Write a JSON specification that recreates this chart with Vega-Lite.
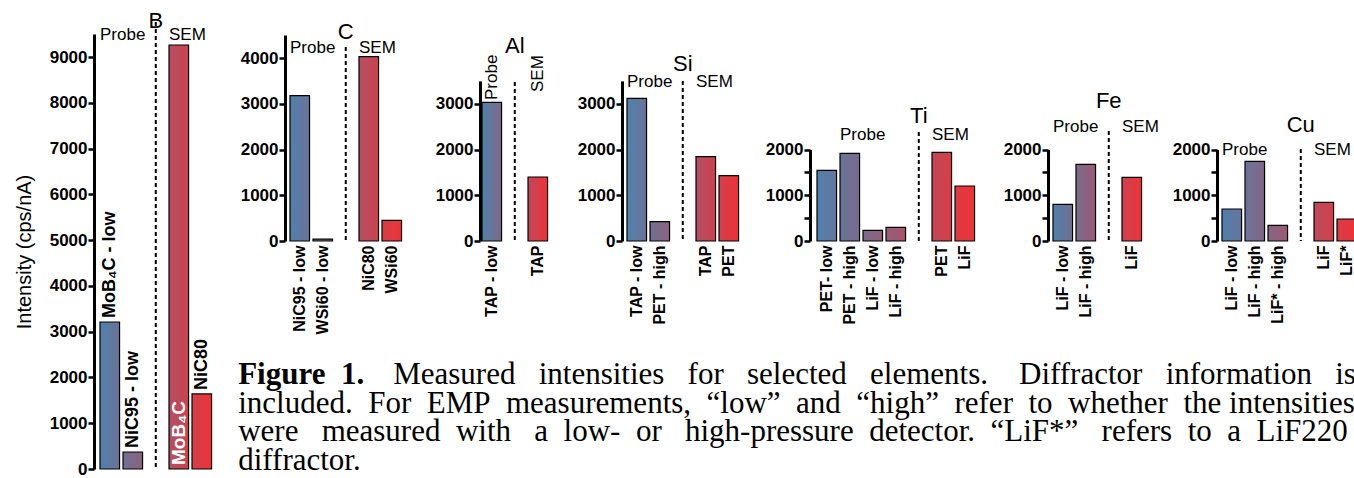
{
  "$schema": "https://vega.github.io/schema/vega-lite/v6.json",
  "background": "white",
  "padding": {"left": 14, "top": 10, "right": 0, "bottom": 0},
  "title": {
    "text": "Figure\u00a0\u00a01.",
    "subtitle": [
      "\u200b\u00a0\u00a0\u00a0\u00a0\u00a0\u00a0\u00a0\u00a0\u00a0\u00a0\u00a0\u00a0\u00a0\u00a0\u00a0\u00a0\u00a0\u00a0\u00a0\u00a0Measured\u00a0\u00a0\u00a0intensities\u00a0\u00a0\u00a0for\u00a0\u00a0\u00a0selected\u00a0\u00a0\u00a0elements.\u00a0\u00a0\u00a0\u00a0Diffractor\u00a0\u00a0\u00a0information\u00a0\u00a0\u00a0is",
      "included.\u00a0\u00a0For\u00a0\u00a0EMP\u00a0\u00a0measurements,\u00a0\u00a0\u201clow\u201d\u00a0\u00a0and\u00a0\u00a0\u201chigh\u201d\u00a0\u00a0refer\u00a0\u00a0to\u00a0\u00a0whether\u00a0\u00a0the intensities",
      "were\u00a0\u00a0\u00a0measured\u00a0\u00a0with\u00a0\u00a0\u00a0a\u00a0\u00a0low-\u00a0\u00a0or\u00a0\u00a0\u00a0high-pressure\u00a0\u00a0detector.\u00a0\u00a0\u201cLiF*\u201d\u00a0\u00a0\u00a0refers\u00a0\u00a0to\u00a0\u00a0a\u00a0\u00a0LiF220",
      "diffractor."
    ],
    "orient": "bottom",
    "anchor": "start",
    "offset": -117,
    "dx": 224,
    "baseline": "top",
    "font": "Liberation Serif",
    "fontSize": 31,
    "fontWeight": "bold",
    "color": "black",
    "subtitleFont": "Liberation Serif",
    "subtitleFontSize": 31,
    "subtitleFontWeight": "normal",
    "subtitleColor": "black",
    "subtitleLineHeight": 28.5,
    "subtitlePadding": -31
  },
  "datasets": {
    "bars": [
      {"el": "B", "label": "MoB\u2084C - low", "v": 3213},
      {"el": "B", "label": "NiC95 - low", "v": 372},
      {"el": "B", "label": "MoB\u2084C", "v": 9268},
      {"el": "B", "label": "NiC80", "v": 1640},
      {"el": "C", "label": "NiC95 - low", "v": 3176},
      {"el": "C", "label": "WSi60 - low", "v": 40},
      {"el": "C", "label": "NiC80", "v": 4029},
      {"el": "C", "label": "WSi60", "v": 452},
      {"el": "Al", "label": "TAP - low", "v": 3031},
      {"el": "Al", "label": "TAP", "v": 1399},
      {"el": "Si", "label": "TAP - low", "v": 3119},
      {"el": "Si", "label": "PET - high", "v": 422},
      {"el": "Si", "label": "TAP", "v": 1843},
      {"el": "Si", "label": "PET", "v": 1428},
      {"el": "Ti", "label": "PET- low", "v": 1545},
      {"el": "Ti", "label": "PET - high", "v": 1916},
      {"el": "Ti", "label": "LiF - low", "v": 233},
      {"el": "Ti", "label": "LiF - high", "v": 299},
      {"el": "Ti", "label": "PET", "v": 1938},
      {"el": "Ti", "label": "LiF", "v": 1202},
      {"el": "Fe", "label": "LiF - low", "v": 802},
      {"el": "Fe", "label": "LiF - high", "v": 1676},
      {"el": "Fe", "label": "LiF", "v": 1392},
      {"el": "Cu", "label": "LiF - low", "v": 699},
      {"el": "Cu", "label": "LiF - high", "v": 1741},
      {"el": "Cu", "label": "LiF* - high", "v": 342},
      {"el": "Cu", "label": "LiF", "v": 845},
      {"el": "Cu", "label": "LiF*", "v": 481}
    ],
    "dividers": [
      {"el": "B", "label": "sep", "v": 9770},
      {"el": "C", "label": "sep", "v": 4241},
      {"el": "Al", "label": "sep", "v": 3476},
      {"el": "Si", "label": "sep", "v": 3498},
      {"el": "Ti", "label": "sep", "v": 2383},
      {"el": "Fe", "label": "sep", "v": 2405},
      {"el": "Cu", "label": "sep", "v": 2011}
    ],
    "elements": [
      {"el": "B", "label": "sep", "v": 9639, "text": "B"},
      {"el": "C", "label": "sep", "v": 4416, "text": "C"},
      {"el": "Al", "label": "sep", "v": 4110, "text": "Al"},
      {"el": "Si", "label": "sep", "v": 3716, "text": "Si"},
      {"el": "Ti", "label": "sep", "v": 2579, "text": "Ti"},
      {"el": "Fe", "label": "sep", "v": 2907, "text": "Fe"},
      {"el": "Cu", "label": "sep", "v": 2383, "text": "Cu"}
    ],
    "groups": [
      {"el": "B", "label": "MoB\u2084C - low", "v": 9377, "text": "Probe"},
      {"el": "B", "label": "MoB\u2084C", "v": 9377, "text": "SEM"},
      {"el": "C", "label": "NiC95 - low", "v": 4110, "text": "Probe"},
      {"el": "C", "label": "NiC80", "v": 4110, "text": "SEM"},
      {"el": "Si", "label": "TAP - low", "v": 3366, "text": "Probe"},
      {"el": "Si", "label": "TAP", "v": 3366, "text": "SEM"},
      {"el": "Ti", "label": "PET - high", "v": 2208, "text": "Probe"},
      {"el": "Ti", "label": "PET", "v": 2208, "text": "SEM"},
      {"el": "Fe", "label": "LiF - low", "v": 2383, "text": "Probe"},
      {"el": "Fe", "label": "LiF", "v": 2383, "text": "SEM"},
      {"el": "Cu", "label": "LiF - low", "v": 1880, "text": "Probe"},
      {"el": "Cu", "label": "LiF", "v": 1880, "text": "SEM"}
    ],
    "groupsAl": [
      {"el": "Al", "label": "TAP - low", "v": 3082, "text": "Probe"},
      {"el": "Al", "label": "TAP", "v": 3257, "text": "SEM"}
    ],
    "barnotes": [
      {"el": "B", "label": "MoB\u2084C - low", "v": 3213, "text": "MoB\u2084C - low"},
      {"el": "B", "label": "NiC95 - low", "v": 372, "text": "NiC95 - low"},
      {"el": "B", "label": "NiC80", "v": 1640, "text": "NiC80"}
    ],
    "innernotes": [
      {"el": "B", "label": "MoB\u2084C", "v": 0, "text": "MoB\u2084C"}
    ]
  },
  "spacing": 50,
  "bounds": "flush",
  "resolve": {"scale": {"x": "independent", "y": "independent"}},
  "hconcat": [
    {
      "width": 141, "height": 435,
      "layer": [
        {
          "data": {"name": "bars"},
          "transform": [{"filter": "datum.el == 'B'"}],
          "mark": {"type": "bar", "stroke": "black", "strokeWidth": 1.2},
          "encoding": {
            "x": {"field": "label", "type": "nominal", "sort": null,
                  "scale": {"domain": ["MoB\u2084C - low", "NiC95 - low", "sep", "MoB\u2084C", "NiC80"], "paddingInner": 0.15, "paddingOuter": 0.64, "align": 0.204},
                  "axis": null},
            "y": {"field": "v", "type": "quantitative", "scale": {"domain": [0, 9508], "nice": false},
                  "axis": {"values": [0,500,1000,1500,2000,2500,3000,3500,4000,4500,5000,5500,6000,6500,7000,7500,8000,8500,9000,9500],
                           "format": "d", "labelExpr": "datum.value % 1000 === 0 ? datum.label : ''",
                           "title": "Intensity (cps/nA)", "titleFontSize": 20, "titleFontWeight": "normal", "titlePadding": 15, "titleFont": "Liberation Sans"}},
            "color": {
              "condition": [
                {"test": "datum.label === 'MoB\u2084C - low'", "value": {"gradient": "linear", "x1": 0, "y1": 0, "x2": 1, "y2": 0, "stops": [{"offset": 0, "color": "#5080ac"}, {"offset": 1, "color": "#6c7298"}]}},
                {"test": "datum.label === 'NiC95 - low'", "value": {"gradient": "linear", "x1": 0, "y1": 0, "x2": 1, "y2": 0, "stops": [{"offset": 0, "color": "#717094"}, {"offset": 1, "color": "#8c627f"}]}},
                {"test": "datum.label === 'MoB\u2084C'", "value": {"gradient": "linear", "x1": 0, "y1": 0, "x2": 1, "y2": 0, "stops": [{"offset": 0, "color": "#b25064"}, {"offset": 1, "color": "#cd424f"}]}}
              ],
              "value": {"gradient": "linear", "x1": 0, "y1": 0, "x2": 1, "y2": 0, "stops": [{"offset": 0, "color": "#d2404b"}, {"offset": 1, "color": "#ee3237"}]}
            }
          }
        },
        {
          "data": {"name": "dividers"},
          "transform": [{"filter": "datum.el == 'B'"}],
          "mark": {"type": "rule", "strokeDash": [4, 3], "strokeWidth": 2, "color": "black"},
          "encoding": {
            "x": {"field": "label", "type": "nominal", "sort": null},
            "y": {"field": "v", "type": "quantitative"},
            "y2": {"datum": 0}
          }
        },
        {
          "data": {"name": "elements"},
          "transform": [{"filter": "datum.el == 'B'"}],
          "mark": {"type": "text", "fontSize": 22, "align": "center", "baseline": "alphabetic", "color": "black"},
          "encoding": {
            "x": {"field": "label", "type": "nominal", "sort": null},
            "y": {"field": "v", "type": "quantitative"},
            "text": {"field": "text"}
          }
        },
        {
          "data": {"name": "groups"},
          "transform": [{"filter": "datum.el == 'B'"}],
          "mark": {"type": "text", "fontSize": 17, "align": "left", "baseline": "alphabetic", "color": "black"},
          "encoding": {
            "x": {"field": "label", "type": "nominal", "sort": null, "bandPosition": 0},
            "y": {"field": "v", "type": "quantitative"},
            "text": {"field": "text"}
          }
        },
        {
          "data": {"name": "barnotes"},
          "mark": {"type": "text", "fontSize": 18, "fontWeight": "bold", "angle": 270, "align": "left", "baseline": "middle", "dx": 4, "color": "black"},
          "encoding": {
            "x": {"field": "label", "type": "nominal", "sort": null},
            "y": {"field": "v", "type": "quantitative"},
            "text": {"field": "text"}
          }
        },
        {
          "data": {"name": "innernotes"},
          "mark": {"type": "text", "fontSize": 19, "fontWeight": "bold", "angle": 270, "align": "left", "baseline": "middle", "dx": 4, "color": "white"},
          "encoding": {
            "x": {"field": "label", "type": "nominal", "sort": null},
            "y": {"field": "v", "type": "quantitative"},
            "text": {"field": "text"}
          }
        }
      ]
    },
    {
      "width": 145, "height": 207,
      "layer": [
        {
          "data": {"name": "bars"},
          "transform": [{"filter": "datum.el == 'C'"}],
          "mark": {"type": "bar", "stroke": "black", "strokeWidth": 1.2},
          "encoding": {
            "x": {"field": "label", "type": "nominal", "sort": null,
                  "scale": {"domain": ["NiC95 - low", "WSi60 - low", "sep", "NiC80", "WSi60"], "paddingInner": 0.15, "paddingOuter": 0.727, "align": 0.149},
                  "axis": {"title": null, "labelExpr": "datum.value == 'sep' ? '' : datum.label"}},
            "y": {"field": "v", "type": "quantitative", "scale": {"domain": [0, 4525], "nice": false},
                  "axis": {"values": [0,500,1000,1500,2000,2500,3000,3500,4000,4500], "format": "d",
                           "labelExpr": "datum.value % 1000 === 0 ? datum.label : ''", "title": null, "domainDash": [206, 1000]}},
            "color": {
              "condition": [
                {"test": "datum.label === 'NiC95 - low'", "value": {"gradient": "linear", "x1": 0, "y1": 0, "x2": 1, "y2": 0, "stops": [{"offset": 0, "color": "#5080ac"}, {"offset": 1, "color": "#6c7298"}]}},
                {"test": "datum.label === 'WSi60 - low'", "value": {"gradient": "linear", "x1": 0, "y1": 0, "x2": 1, "y2": 0, "stops": [{"offset": 0, "color": "#717094"}, {"offset": 1, "color": "#8c627f"}]}},
                {"test": "datum.label === 'NiC80'", "value": {"gradient": "linear", "x1": 0, "y1": 0, "x2": 1, "y2": 0, "stops": [{"offset": 0, "color": "#b25064"}, {"offset": 1, "color": "#cd424f"}]}}
              ],
              "value": {"gradient": "linear", "x1": 0, "y1": 0, "x2": 1, "y2": 0, "stops": [{"offset": 0, "color": "#d2404b"}, {"offset": 1, "color": "#ee3237"}]}
            }
          }
        },
        {
          "data": {"name": "dividers"},
          "transform": [{"filter": "datum.el == 'C'"}],
          "mark": {"type": "rule", "strokeDash": [4, 3], "strokeWidth": 2, "color": "black"},
          "encoding": {
            "x": {"field": "label", "type": "nominal", "sort": null},
            "y": {"field": "v", "type": "quantitative"},
            "y2": {"datum": 0}
          }
        },
        {
          "data": {"name": "elements"},
          "transform": [{"filter": "datum.el == 'C'"}],
          "mark": {"type": "text", "fontSize": 22, "align": "center", "baseline": "alphabetic", "color": "black"},
          "encoding": {
            "x": {"field": "label", "type": "nominal", "sort": null},
            "y": {"field": "v", "type": "quantitative"},
            "text": {"field": "text"}
          }
        },
        {
          "data": {"name": "groups"},
          "transform": [{"filter": "datum.el == 'C'"}],
          "mark": {"type": "text", "fontSize": 17, "align": "left", "baseline": "alphabetic", "color": "black"},
          "encoding": {
            "x": {"field": "label", "type": "nominal", "sort": null, "bandPosition": 0},
            "y": {"field": "v", "type": "quantitative"},
            "text": {"field": "text"}
          }
        }
      ]
    },
    {
      "width": 92, "height": 207,
      "layer": [
        {
          "data": {"name": "bars"},
          "transform": [{"filter": "datum.el == 'Al'"}],
          "mark": {"type": "bar", "stroke": "black", "strokeWidth": 1.2},
          "encoding": {
            "x": {"field": "label", "type": "nominal", "sort": null,
                  "scale": {"domain": ["TAP - low", "sep", "TAP"], "paddingInner": 0.15, "paddingOuter": 0.575, "align": 0.076},
                  "axis": {"title": null, "labelExpr": "datum.value == 'sep' ? '' : datum.label"}},
            "y": {"field": "v", "type": "quantitative", "scale": {"domain": [0, 4525], "nice": false},
                  "axis": {"values": [0,500,1000,1500,2000,2500,3000,3500], "format": "d",
                           "labelExpr": "datum.value % 1000 === 0 ? datum.label : ''", "title": null, "domainDash": [160.1, 1000]}},
            "color": {
              "condition": [
                {"test": "datum.label === 'TAP - low'", "value": {"gradient": "linear", "x1": 0, "y1": 0, "x2": 1, "y2": 0, "stops": [{"offset": 0, "color": "#5080ac"}, {"offset": 1, "color": "#7f6989"}]}}
              ],
              "value": {"gradient": "linear", "x1": 0, "y1": 0, "x2": 1, "y2": 0, "stops": [{"offset": 0, "color": "#bf495a"}, {"offset": 1, "color": "#ee3237"}]}
            }
          }
        },
        {
          "data": {"name": "dividers"},
          "transform": [{"filter": "datum.el == 'Al'"}],
          "mark": {"type": "rule", "strokeDash": [4, 3], "strokeWidth": 2, "color": "black"},
          "encoding": {
            "x": {"field": "label", "type": "nominal", "sort": null},
            "y": {"field": "v", "type": "quantitative"},
            "y2": {"datum": 0}
          }
        },
        {
          "data": {"name": "elements"},
          "transform": [{"filter": "datum.el == 'Al'"}],
          "mark": {"type": "text", "fontSize": 22, "align": "center", "baseline": "alphabetic", "color": "black"},
          "encoding": {
            "x": {"field": "label", "type": "nominal", "sort": null},
            "y": {"field": "v", "type": "quantitative"},
            "text": {"field": "text"}
          }
        },
        {
          "data": {"name": "groupsAl"},
          "mark": {"type": "text", "fontSize": 17, "angle": 270, "align": "left", "baseline": "middle", "color": "black"},
          "encoding": {
            "x": {"field": "label", "type": "nominal", "sort": null},
            "y": {"field": "v", "type": "quantitative"},
            "text": {"field": "text"}
          }
        }
      ]
    },
    {
      "width": 138, "height": 207,
      "layer": [
        {
          "data": {"name": "bars"},
          "transform": [{"filter": "datum.el == 'Si'"}],
          "mark": {"type": "bar", "stroke": "black", "strokeWidth": 1.2},
          "encoding": {
            "x": {"field": "label", "type": "nominal", "sort": null,
                  "scale": {"domain": ["TAP - low", "PET - high", "sep", "TAP", "PET"], "paddingInner": 0.15, "paddingOuter": 0.575, "align": 0.189},
                  "axis": {"title": null, "labelExpr": "datum.value == 'sep' ? '' : datum.label"}},
            "y": {"field": "v", "type": "quantitative", "scale": {"domain": [0, 4525], "nice": false},
                  "axis": {"values": [0,500,1000,1500,2000,2500,3000,3500], "format": "d",
                           "labelExpr": "datum.value % 1000 === 0 ? datum.label : ''", "title": null, "domainDash": [160.1, 1000]}},
            "color": {
              "condition": [
                {"test": "datum.label === 'TAP - low'", "value": {"gradient": "linear", "x1": 0, "y1": 0, "x2": 1, "y2": 0, "stops": [{"offset": 0, "color": "#5080ac"}, {"offset": 1, "color": "#6c7298"}]}},
                {"test": "datum.label === 'PET - high'", "value": {"gradient": "linear", "x1": 0, "y1": 0, "x2": 1, "y2": 0, "stops": [{"offset": 0, "color": "#717094"}, {"offset": 1, "color": "#8c627f"}]}},
                {"test": "datum.label === 'TAP'", "value": {"gradient": "linear", "x1": 0, "y1": 0, "x2": 1, "y2": 0, "stops": [{"offset": 0, "color": "#b25064"}, {"offset": 1, "color": "#cd424f"}]}}
              ],
              "value": {"gradient": "linear", "x1": 0, "y1": 0, "x2": 1, "y2": 0, "stops": [{"offset": 0, "color": "#d2404b"}, {"offset": 1, "color": "#ee3237"}]}
            }
          }
        },
        {
          "data": {"name": "dividers"},
          "transform": [{"filter": "datum.el == 'Si'"}],
          "mark": {"type": "rule", "strokeDash": [4, 3], "strokeWidth": 2, "color": "black"},
          "encoding": {
            "x": {"field": "label", "type": "nominal", "sort": null},
            "y": {"field": "v", "type": "quantitative"},
            "y2": {"datum": 0}
          }
        },
        {
          "data": {"name": "elements"},
          "transform": [{"filter": "datum.el == 'Si'"}],
          "mark": {"type": "text", "fontSize": 22, "align": "center", "baseline": "alphabetic", "color": "black"},
          "encoding": {
            "x": {"field": "label", "type": "nominal", "sort": null},
            "y": {"field": "v", "type": "quantitative"},
            "text": {"field": "text"}
          }
        },
        {
          "data": {"name": "groups"},
          "transform": [{"filter": "datum.el == 'Si'"}],
          "mark": {"type": "text", "fontSize": 17, "align": "left", "baseline": "alphabetic", "color": "black"},
          "encoding": {
            "x": {"field": "label", "type": "nominal", "sort": null, "bandPosition": 0},
            "y": {"field": "v", "type": "quantitative"},
            "text": {"field": "text"}
          }
        }
      ]
    },
    {
      "width": 188, "height": 207,
      "layer": [
        {
          "data": {"name": "bars"},
          "transform": [{"filter": "datum.el == 'Ti'"}],
          "mark": {"type": "bar", "stroke": "black", "strokeWidth": 1.2},
          "encoding": {
            "x": {"field": "label", "type": "nominal", "sort": null,
                  "scale": {"domain": ["PET- low", "PET - high", "LiF - low", "LiF - high", "sep", "PET", "LiF"], "paddingInner": 0.15, "paddingOuter": 0.662, "align": 0.23},
                  "axis": {"title": null, "labelExpr": "datum.value == 'sep' ? '' : datum.label"}},
            "y": {"field": "v", "type": "quantitative", "scale": {"domain": [0, 4525], "nice": false},
                  "axis": {"values": [0,500,1000,1500,2000], "format": "d",
                           "labelExpr": "datum.value % 1000 === 0 ? datum.label : ''", "title": null, "domainDash": [91.5, 1000]}},
            "color": {
              "condition": [
                {"test": "datum.label === 'PET- low'", "value": {"gradient": "linear", "x1": 0, "y1": 0, "x2": 1, "y2": 0, "stops": [{"offset": 0, "color": "#5080ac"}, {"offset": 1, "color": "#64769e"}]}},
                {"test": "datum.label === 'PET - high'", "value": {"gradient": "linear", "x1": 0, "y1": 0, "x2": 1, "y2": 0, "stops": [{"offset": 0, "color": "#67759b"}, {"offset": 1, "color": "#7b6b8c"}]}},
                {"test": "datum.label === 'LiF - low'", "value": {"gradient": "linear", "x1": 0, "y1": 0, "x2": 1, "y2": 0, "stops": [{"offset": 0, "color": "#7e698a"}, {"offset": 1, "color": "#92607b"}]}},
                {"test": "datum.label === 'LiF - high'", "value": {"gradient": "linear", "x1": 0, "y1": 0, "x2": 1, "y2": 0, "stops": [{"offset": 0, "color": "#955e79"}, {"offset": 1, "color": "#a9546a"}]}},
                {"test": "datum.label === 'PET'", "value": {"gradient": "linear", "x1": 0, "y1": 0, "x2": 1, "y2": 0, "stops": [{"offset": 0, "color": "#c34757"}, {"offset": 1, "color": "#d73d48"}]}}
              ],
              "value": {"gradient": "linear", "x1": 0, "y1": 0, "x2": 1, "y2": 0, "stops": [{"offset": 0, "color": "#da3c45"}, {"offset": 1, "color": "#ee3237"}]}
            }
          }
        },
        {
          "data": {"name": "dividers"},
          "transform": [{"filter": "datum.el == 'Ti'"}],
          "mark": {"type": "rule", "strokeDash": [4, 3], "strokeWidth": 2, "color": "black"},
          "encoding": {
            "x": {"field": "label", "type": "nominal", "sort": null},
            "y": {"field": "v", "type": "quantitative"},
            "y2": {"datum": 0}
          }
        },
        {
          "data": {"name": "elements"},
          "transform": [{"filter": "datum.el == 'Ti'"}],
          "mark": {"type": "text", "fontSize": 22, "align": "center", "baseline": "alphabetic", "color": "black"},
          "encoding": {
            "x": {"field": "label", "type": "nominal", "sort": null},
            "y": {"field": "v", "type": "quantitative"},
            "text": {"field": "text"}
          }
        },
        {
          "data": {"name": "groups"},
          "transform": [{"filter": "datum.el == 'Ti'"}],
          "mark": {"type": "text", "fontSize": 17, "align": "left", "baseline": "alphabetic", "color": "black"},
          "encoding": {
            "x": {"field": "label", "type": "nominal", "sort": null, "bandPosition": 0},
            "y": {"field": "v", "type": "quantitative"},
            "text": {"field": "text"}
          }
        }
      ]
    },
    {
      "width": 119, "height": 207,
      "layer": [
        {
          "data": {"name": "bars"},
          "transform": [{"filter": "datum.el == 'Fe'"}],
          "mark": {"type": "bar", "stroke": "black", "strokeWidth": 1.2},
          "encoding": {
            "x": {"field": "label", "type": "nominal", "sort": null,
                  "scale": {"domain": ["LiF - low", "LiF - high", "sep", "LiF"], "paddingInner": 0.15, "paddingOuter": 0.662, "align": 0.164},
                  "axis": {"title": null, "labelExpr": "datum.value == 'sep' ? '' : datum.label"}},
            "y": {"field": "v", "type": "quantitative", "scale": {"domain": [0, 4525], "nice": false},
                  "axis": {"values": [0,500,1000,1500,2000], "format": "d",
                           "labelExpr": "datum.value % 1000 === 0 ? datum.label : ''", "title": null, "domainDash": [91.5, 1000]}},
            "color": {
              "condition": [
                {"test": "datum.label === 'LiF - low'", "value": {"gradient": "linear", "x1": 0, "y1": 0, "x2": 1, "y2": 0, "stops": [{"offset": 0, "color": "#5080ac"}, {"offset": 1, "color": "#736f92"}]}},
                {"test": "datum.label === 'LiF - high'", "value": {"gradient": "linear", "x1": 0, "y1": 0, "x2": 1, "y2": 0, "stops": [{"offset": 0, "color": "#796c8e"}, {"offset": 1, "color": "#9c5a74"}]}}
              ],
              "value": {"gradient": "linear", "x1": 0, "y1": 0, "x2": 1, "y2": 0, "stops": [{"offset": 0, "color": "#cb4351"}, {"offset": 1, "color": "#ee3237"}]}
            }
          }
        },
        {
          "data": {"name": "dividers"},
          "transform": [{"filter": "datum.el == 'Fe'"}],
          "mark": {"type": "rule", "strokeDash": [4, 3], "strokeWidth": 2, "color": "black"},
          "encoding": {
            "x": {"field": "label", "type": "nominal", "sort": null},
            "y": {"field": "v", "type": "quantitative"},
            "y2": {"datum": 0}
          }
        },
        {
          "data": {"name": "elements"},
          "transform": [{"filter": "datum.el == 'Fe'"}],
          "mark": {"type": "text", "fontSize": 22, "align": "center", "baseline": "alphabetic", "color": "black"},
          "encoding": {
            "x": {"field": "label", "type": "nominal", "sort": null},
            "y": {"field": "v", "type": "quantitative"},
            "text": {"field": "text"}
          }
        },
        {
          "data": {"name": "groups"},
          "transform": [{"filter": "datum.el == 'Fe'"}],
          "mark": {"type": "text", "fontSize": 17, "align": "left", "baseline": "alphabetic", "color": "black"},
          "encoding": {
            "x": {"field": "label", "type": "nominal", "sort": null, "bandPosition": 0},
            "y": {"field": "v", "type": "quantitative"},
            "text": {"field": "text"}
          }
        }
      ]
    },
    {
      "width": 150, "height": 207,
      "layer": [
        {
          "data": {"name": "bars"},
          "transform": [{"filter": "datum.el == 'Cu'"}],
          "mark": {"type": "bar", "stroke": "black", "strokeWidth": 1.2},
          "encoding": {
            "x": {"field": "label", "type": "nominal", "sort": null,
                  "scale": {"domain": ["LiF - low", "LiF - high", "LiF* - high", "sep", "LiF", "LiF*"], "paddingInner": 0.15, "paddingOuter": 0.336, "align": 0.324},
                  "axis": {"title": null, "labelExpr": "datum.value == 'sep' ? '' : datum.label"}},
            "y": {"field": "v", "type": "quantitative", "scale": {"domain": [0, 4525], "nice": false},
                  "axis": {"values": [0,500,1000,1500,2000], "format": "d",
                           "labelExpr": "datum.value % 1000 === 0 ? datum.label : ''", "title": null, "domainDash": [91.5, 1000]}},
            "color": {
              "condition": [
                {"test": "datum.label === 'LiF - low'", "value": {"gradient": "linear", "x1": 0, "y1": 0, "x2": 1, "y2": 0, "stops": [{"offset": 0, "color": "#5080ac"}, {"offset": 1, "color": "#67759b"}]}},
                {"test": "datum.label === 'LiF - high'", "value": {"gradient": "linear", "x1": 0, "y1": 0, "x2": 1, "y2": 0, "stops": [{"offset": 0, "color": "#6b7398"}, {"offset": 1, "color": "#826787"}]}},
                {"test": "datum.label === 'LiF* - high'", "value": {"gradient": "linear", "x1": 0, "y1": 0, "x2": 1, "y2": 0, "stops": [{"offset": 0, "color": "#866584"}, {"offset": 1, "color": "#9d5a73"}]}},
                {"test": "datum.label === 'LiF'", "value": {"gradient": "linear", "x1": 0, "y1": 0, "x2": 1, "y2": 0, "stops": [{"offset": 0, "color": "#bc4b5c"}, {"offset": 1, "color": "#d33f4b"}]}}
              ],
              "value": {"gradient": "linear", "x1": 0, "y1": 0, "x2": 1, "y2": 0, "stops": [{"offset": 0, "color": "#d73d48"}, {"offset": 1, "color": "#ee3237"}]}
            }
          }
        },
        {
          "data": {"name": "dividers"},
          "transform": [{"filter": "datum.el == 'Cu'"}],
          "mark": {"type": "rule", "strokeDash": [4, 3], "strokeWidth": 2, "color": "black"},
          "encoding": {
            "x": {"field": "label", "type": "nominal", "sort": null},
            "y": {"field": "v", "type": "quantitative"},
            "y2": {"datum": 0}
          }
        },
        {
          "data": {"name": "elements"},
          "transform": [{"filter": "datum.el == 'Cu'"}],
          "mark": {"type": "text", "fontSize": 22, "align": "center", "baseline": "alphabetic", "color": "black"},
          "encoding": {
            "x": {"field": "label", "type": "nominal", "sort": null},
            "y": {"field": "v", "type": "quantitative"},
            "text": {"field": "text"}
          }
        },
        {
          "data": {"name": "groups"},
          "transform": [{"filter": "datum.el == 'Cu'"}],
          "mark": {"type": "text", "fontSize": 17, "align": "left", "baseline": "alphabetic", "color": "black"},
          "encoding": {
            "x": {"field": "label", "type": "nominal", "sort": null, "bandPosition": 0},
            "y": {"field": "v", "type": "quantitative"},
            "text": {"field": "text"}
          }
        }
      ]
    }
  ],
  "config": {
    "font": "Liberation Sans",
    "view": {"stroke": null},
    "text": {"font": "Liberation Sans"},
    "axis": {"labelColor": "black", "labelFont": "Liberation Sans", "labelFontWeight": "bold", "titleColor": "black", "domainColor": "black", "tickColor": "black", "grid": false, "labelOverlap": false},
    "axisY": {"labelFontSize": 17, "tickSize": 6, "tickWidth": 2.5, "domainWidth": 3, "labelPadding": 1},
    "axisX": {"domain": false, "ticks": false, "labelAngle": 270, "labelAlign": "right", "labelBaseline": "middle", "labelFontSize": 16, "labelPadding": 4, "labelLimit": 300}
  }
}
